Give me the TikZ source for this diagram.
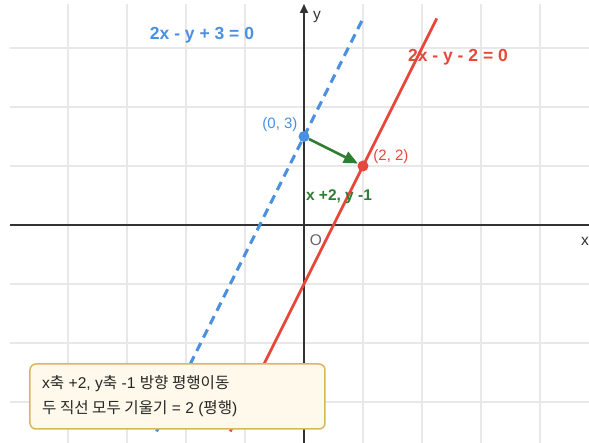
\documentclass[tikz,border=0pt]{standalone}
\usepackage{fontspec}
\setmainfont{Liberation Sans}
\newfontfamily\krfont{Noto Sans CJK KR}
\usetikzlibrary{arrows.meta}
\definecolor{lblue}{HTML}{4A90E2}
\definecolor{lred}{HTML}{E8483C}
\definecolor{lgreen}{HTML}{2E7D32}
\definecolor{gridc}{HTML}{E8E8E8}
\definecolor{axisc}{HTML}{333333}
\definecolor{boxfill}{HTML}{FFF9EC}
\definecolor{boxdraw}{HTML}{D9B85C}
\newcommand{\kr}[1]{{\krfont #1}}
\begin{document}
\begin{tikzpicture}[x=29.5pt,y=29.5pt,
  gridline/.style={gridc,line width=1.5pt},
  axisline/.style={axisc,line width=1.8pt},
  pt/.style={circle,inner sep=0pt,minimum size=11pt},
  eqlabel/.style={font=\fontsize{17.5}{20}\selectfont\bfseries},
  ptlabel/.style={font=\fontsize{15}{18}\selectfont},
  axlabel/.style={font=\fontsize{15.5}{18}\selectfont,text=axisc}]
\useasboundingbox (-304pt,-218pt) rectangle (285pt,225pt);
\fill[white] (-304pt,-218pt) rectangle (285pt,225pt);
% grid
\foreach \i in {-8,-6,...,8}{\draw[gridline] (\i,-218pt) -- (\i,221pt);}
\foreach \j in {-6,-4,...,6}{\draw[gridline] (-294pt,\j) -- (285pt,\j);}
% axes
\coordinate (xs) at (-294pt,0);
\coordinate (xe) at (285pt,0);
\coordinate (ys) at (0,-218pt);
\coordinate (ye) at (0,221pt);
\draw[axisline] (xs) -- (xe);
\draw[axisline,-{Triangle[length=9pt,width=8pt]}] (ys) -- (ye);
\node[axlabel] (xl) at (281pt,-16pt) {x};
\node[axlabel] (yl) at (13pt,208pt) {y};
\node[axlabel,text=gray!80!black] (ol) at (12pt,-15pt) {O};
% lines
\coordinate (b1) at (-5,-7);
\coordinate (b2) at (2,7);
\coordinate (r1) at (-2.5,-7);
\coordinate (r2) at (4.5,7);
\draw[lblue,line width=3pt,dash pattern=on 9pt off 6pt] (b1) -- (b2);
\draw[lred,line width=2.8pt] (r1) -- (r2);
% points
\node[pt,fill=lblue] (p03) at (0,3) {};
\node[pt,fill=lred] (p22) at (2,2) {};
\draw[lgreen,line width=2.5pt,-{Triangle[length=14pt,width=12pt]}] (p03) -- (p22);
% labels
\node[eqlabel,text=lblue] (eqb) at (-102pt,190pt) {2x - y + 3 = 0};
\node[eqlabel,text=lred] (eqr) at (154pt,168pt) {2x - y - 2 = 0};
\node[ptlabel,text=lblue] (l03) at (-24pt,100pt) {(0, 3)};
\node[ptlabel,text=lred] (l22) at (87pt,68pt) {(2, 2)};
\node[text=lgreen,font=\fontsize{15.5}{18}\selectfont\bfseries] (shift) at (35pt,28pt) {x +2, y -1};
% info box
\draw[boxdraw,fill=boxfill,line width=1.5pt,rounded corners=6pt] (-274pt,-139pt) rectangle (21pt,-204pt);
\node[anchor=west,inner sep=0pt,font=\fontsize{15.6}{18}\selectfont,text=black!85] (t1) at (-262pt,-159pt) {x\kr{축} +2, y\kr{축} -1 \kr{방향 평행이동}};
\node[anchor=west,inner sep=0pt,font=\fontsize{15.6}{18}\selectfont,text=black!85] (t2) at (-262pt,-184pt) {\kr{두 직선 모두 기울기} = 2 (\kr{평행})};
\end{tikzpicture}
\end{document}
